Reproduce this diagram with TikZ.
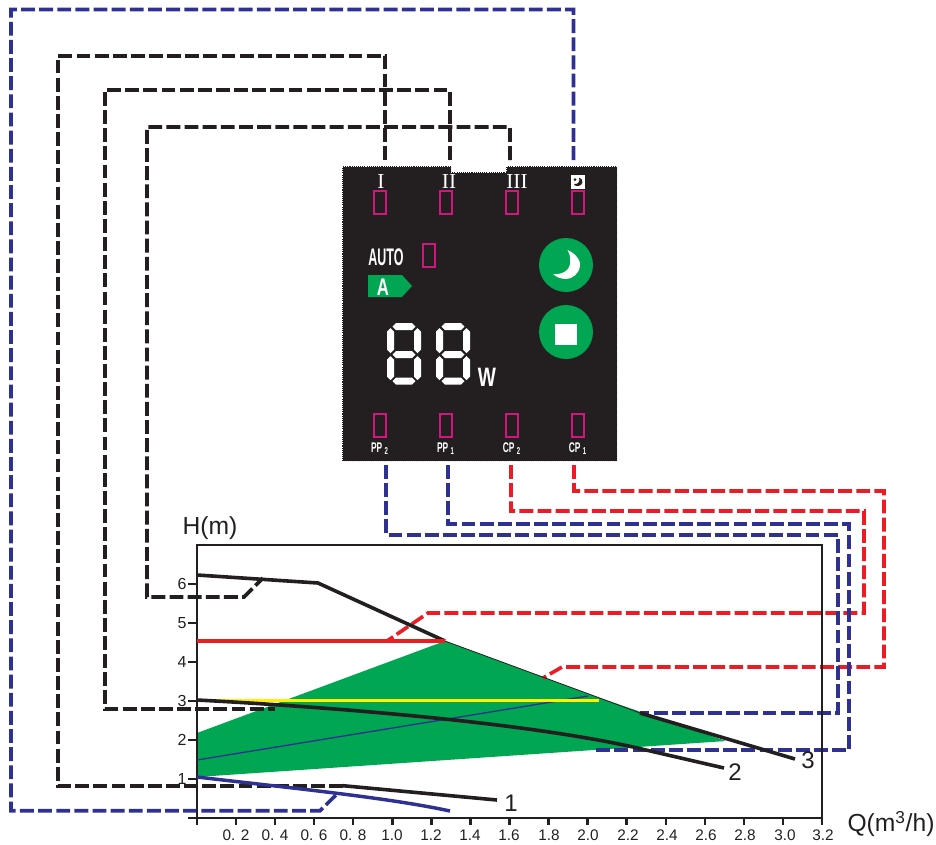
\documentclass[tikz,border=0pt]{standalone}
\usepackage{fontspec}
\setmainfont{Liberation Sans}
\newfontfamily\romanfont{Liberation Serif}
\usetikzlibrary{calc}
\definecolor{ink}{HTML}{231F20}
\definecolor{dblue}{HTML}{2E3192}
\definecolor{dred}{HTML}{ED1C24}
\definecolor{dgreen}{HTML}{00A651}
\definecolor{dmag}{HTML}{D4147F}
\definecolor{dyellow}{HTML}{FFF200}
\tikzset{
  x=0.75pt,y=-0.75pt,
  wire/.style={line width=2.7pt,dash pattern=on 10.4pt off 3.2pt,line join=miter},
  bluewire/.style={wire,draw=dblue},
  blackwire/.style={wire,draw=ink},
  redwire/.style={wire,draw=dred},
  curveline/.style={line width=2.7pt,draw=ink},
  axisline/.style={line width=1.8pt,draw=ink},
  ticklabel/.style={font=\fontsize{11.5}{12}\selectfont,text=ink,inner sep=0pt},
  yticklabel/.style={font=\fontsize{12}{12}\selectfont,text=ink,inner sep=0pt},
  axislabel/.style={font=\fontsize{18.5}{18.5}\selectfont,text=ink,inner sep=0pt},
  curvelabel/.style={font=\fontsize{18}{18}\selectfont,text=ink,inner sep=0pt},
  lamp/.style={draw=dmag,line width=1.5pt,fill=none,minimum width=9.6pt,minimum height=17pt,inner sep=0pt,rectangle},
  romanlabel/.style={font=\romanfont\fontsize{16}{16}\selectfont,text=white,inner sep=0pt},
  panellabel/.style={font=\bfseries\fontsize{10.5}{10.5}\selectfont,text=white,inner sep=0pt,xscale=0.6},
  seg/.style={fill=white,draw=none},
}
\newcommand{\hseg}[3]{\fill[seg] (#1,#2) -- (#1+3.5,#2-3.5) -- (#1+#3-3.5,#2-3.5) -- (#1+#3,#2) -- (#1+#3-3.5,#2+3.5) -- (#1+3.5,#2+3.5) -- cycle;}
\newcommand{\vseg}[3]{\fill[seg] (#1,#2) -- (#1+3.5,#2+3.5) -- (#1+3.5,#2+#3-3.5) -- (#1,#2+#3) -- (#1-3.5,#2+#3-3.5) -- (#1-3.5,#2+3.5) -- cycle;}
\newcommand{\digit}[1]{%
  \hseg{#1+2}{326.5}{23}\hseg{#1+2}{354.5}{23}\hseg{#1+2}{381}{23}%
  \vseg{#1}{328}{25}\vseg{#1+27}{328}{25}\vseg{#1}{356}{24}\vseg{#1+27}{356}{24}}
\newcommand{\sublabel}[2]{#1\hspace{3pt}\raisebox{-1.5pt}{\fontsize{7.5}{7.5}\selectfont #2}}
\begin{document}
\begin{tikzpicture}
\useasboundingbox (0,0) rectangle (936,844);
% panel
\fill[ink] (342,166) -- (451,166) -- (451,172) -- (506,172) -- (506,166) -- (617,166) -- (617,461) -- (342,461) -- cycle;
\draw[white,line width=0.5pt,dash pattern=on 0.8pt off 0.8pt] (342,166) -- (451,166) -- (451,172) -- (506,172) -- (506,166) -- (617,166) -- (617,461) -- (342,461) -- cycle;
% panel ends of connectors
\coordinate (pI) at (385,160);
\coordinate (pII) at (450,160);
\coordinate (pIII) at (510,160);
\coordinate (pNight) at (573.5,160);
\coordinate (pPPtwo) at (386,465);
\coordinate (pPPone) at (448,465);
\coordinate (pCPtwo) at (511,465);
\coordinate (pCPone) at (574,465);
% chart ends of connectors
\coordinate (cBlue) at (337,794);
\coordinate (cOne) at (343,785.7);
\coordinate (cTwo) at (275,709);
\coordinate (cThree) at (263,578);
\coordinate (cRedA) at (387,641);
\coordinate (cRedB) at (543,678);
\coordinate (cPPone) at (595,750);
\coordinate (cPPtwo) at (640,713);
% green region
\fill[dgreen] (197,777) -- (197,733) -- (445,641) -- (597,697) -- (726,741) -- cycle;
% connectors
\draw[bluewire] (pNight) -- (573.5,9.5) -- (11,9.5) -- (11,810.7) -- (320,810.7) -- (cBlue);
\draw[blackwire] (pI) -- (385,55.7) -- (58,55.7) -- (58,785.7) -- (cOne);
\draw[blackwire] (pII) -- (450,90) -- (105,90) -- (105,709) -- (cTwo);
\draw[blackwire] (pIII) -- (510,127) -- (147,127) -- (147,597) -- (244,597) -- (cThree);
\draw[redwire] (pCPtwo) -- (511,511) -- (864,511) -- (864,613) -- (428,613) -- (cRedA);
\draw[redwire] (pCPone) -- (574,491) -- (884,491) -- (884,667) -- (562,667) -- (cRedB);
\draw[bluewire] (pPPone) -- (448,524) -- (849,524) -- (849,750) -- (cPPone);
\draw[bluewire] (pPPtwo) -- (386,535) -- (838,535) -- (838,713) -- (cPPtwo);
% chart frame
\draw[axisline] (197,818) -- (197,545) -- (822,545) -- (822,818) -- cycle;
\foreach \i in {0,...,16} \draw[axisline] ({197+39.06*\i},818) -- ({197+39.06*\i},825);
\foreach \y in {584,623,662,701,740,779,818} \draw[axisline] (188,\y) -- (197,\y);
\node[yticklabel] (y6) at (182,584) {6};
\node[yticklabel] (y5) at (182,623) {5};
\node[yticklabel] (y4) at (182,662) {4};
\node[yticklabel] (y3) at (182,701) {3};
\node[yticklabel] (y2) at (182,740) {2};
\node[yticklabel] (y1) at (182,779) {1};
\node[ticklabel] (x02) at (236,835) {0. 2};
\node[ticklabel] (x04) at (275,835) {0. 4};
\node[ticklabel] (x06) at (314,835) {0. 6};
\node[ticklabel] (x08) at (353,835) {0. 8};
\node[ticklabel] (x10) at (392,835) {1.0};
\node[ticklabel] (x12) at (431,835) {1.2};
\node[ticklabel] (x14) at (470,835) {1.4};
\node[ticklabel] (x16) at (509,835) {1.6};
\node[ticklabel] (x18) at (549,835) {1.8};
\node[ticklabel] (x20) at (588,835) {2.0};
\node[ticklabel] (x22) at (628,835) {2.2};
\node[ticklabel] (x24) at (667,835) {2.4};
\node[ticklabel] (x26) at (706,835) {2.6};
\node[ticklabel] (x28) at (745,835) {2.8};
\node[ticklabel] (x30) at (785,835) {3.0};
\node[ticklabel] (x32) at (823,835) {3.2};
\node[axislabel] (hlabel) at (210,528) {H(m)};
\node[axislabel] (qlabel) at (891,824) {Q(m\textsuperscript{3}/h)};
% curves
\draw[curveline] (197,575) -- (318,583) -- (445,641);
\draw[line width=0.6pt,ink] (445,641) -- (597,697) -- (640,713);
\draw[curveline] (640,713) -- (795,759);
\draw[curveline] (633,747) -- (724,768);
\draw[curveline] (cOne) -- (497,800);
\draw[line width=2.6pt,dblue] (197,777) .. controls (300,789) and (390,798) .. (450,811);
\draw[line width=1pt,dblue] (197,760) -- (588,696);
\draw[line width=2.7pt,dred] (197,641) -- (445,641);
\draw[line width=2.7pt,dyellow] (197,700.5) -- (599,700.5);
\draw[curveline] (197,700) .. controls (330,707) and (520,722) .. (633,747);
\node[curvelabel] (c1) at (511,803) {1};
\node[curvelabel] (c2) at (735,772) {2};
\node[curvelabel] (c3) at (808,760) {3};
% panel contents
\node[romanlabel] (lI) at (381,182) {I};
\node[romanlabel] (lII) at (449,182) {II};
\node[romanlabel] (lIII) at (517,182) {III};
\fill[white] (570.5,175) rectangle (585,188.5);
\fill[ink] (579,177.5) .. controls (584,179) and (584,186) .. (577,186) .. controls (575,186) and (574,185) .. (574,184) .. controls (578,185) and (580.5,181) .. cycle;
\fill[ink] (575,179.5) circle (1.5);
\node[lamp] (l1) at (380,202.5) {};
\node[lamp] (l2) at (446,202.5) {};
\node[lamp] (l3) at (512,202.5) {};
\node[lamp] (l4) at (578,202.5) {};
\node[lamp] (l5) at (429,255.5) {};
\node[lamp] (l6) at (380,425.5) {};
\node[lamp] (l7) at (446,425.5) {};
\node[lamp] (l8) at (512,425.5) {};
\node[lamp] (l9) at (578,425.5) {};
\node[font=\bfseries\fontsize{18}{18}\selectfont,text=white,inner sep=0pt,xscale=0.52] (auto) at (386,257.5) {AUTO};
\fill[dgreen] (368,275) -- (402,275) -- (412,286) -- (402,297) -- (368,297) -- cycle;
\node[font=\bfseries\fontsize{18}{18}\selectfont,text=white,inner sep=0pt,xscale=0.7] (aclass) at (383,287.5) {A};
\fill[dgreen] (566,265) circle (27);
\fill[white] (567.5,250) .. controls (577,254) and (581,262) .. (580,266) .. controls (579,274) and (572,279) .. (566,279) .. controls (561,279) and (556,277) .. (553,274) .. controls (561,275) and (572,271) .. (570,259) .. controls (570,255) and (569,252) .. cycle;
\fill[dgreen] (566,332) circle (27);
\fill[white] (555,324) rectangle (577,345);
\digit{390.5}
\digit{439.5}
\node[font=\bfseries\fontsize{20}{20}\selectfont,text=white,inner sep=0pt,xscale=0.72] (watt) at (487,377.5) {W};
\node[panellabel] (pp2) at (379.5,449) {\sublabel{PP}{2}};
\node[panellabel] (pp1) at (445.5,449) {\sublabel{PP}{1}};
\node[panellabel] (cp2) at (511.5,449) {\sublabel{CP}{2}};
\node[panellabel] (cp1) at (577.5,449) {\sublabel{CP}{1}};
\end{tikzpicture}
\end{document}
